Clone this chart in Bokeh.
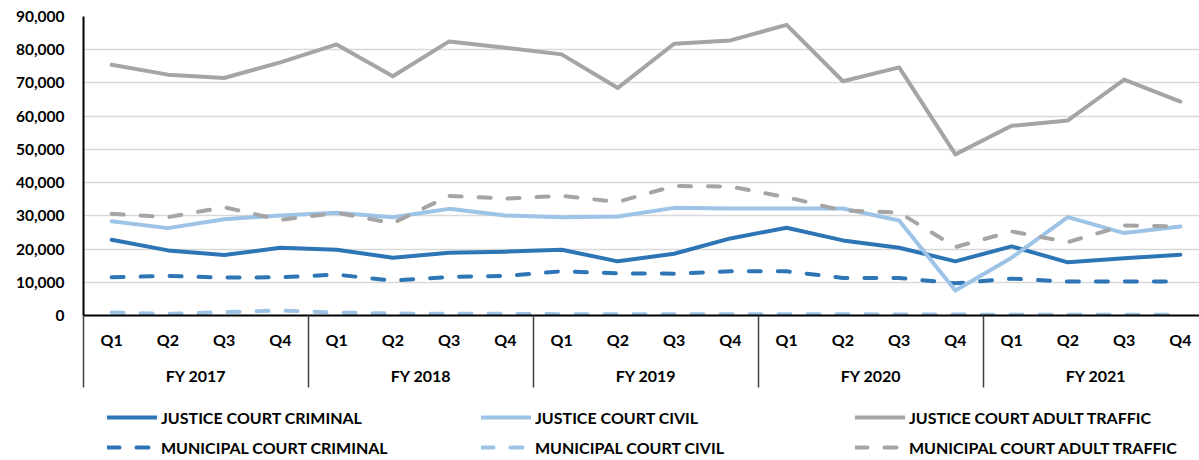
from bokeh.plotting import figure
from bokeh.layouts import column
from bokeh.models import Range1d, FixedTicker, LinearAxis, NumeralTickFormatter, Legend, LegendItem
from bokeh.embed import file_html
from bokeh.resources import INLINE

# ---- data ----
quarters = ["Q1", "Q2", "Q3", "Q4"] * 5
years = ["FY 2017", "FY 2018", "FY 2019", "FY 2020", "FY 2021"]
justice_criminal = [22800, 19600, 18200, 20400, 19800, 17400, 18900, 19200, 19800, 16300,
                    18600, 23200, 26400, 22600, 20400, 16300, 20800, 16000, 17200, 18300]
justice_civil = [28400, 26300, 29000, 30100, 30900, 29600, 32100, 30100, 29600, 29800,
                 32400, 32200, 32200, 32200, 28600, 7500, 17400, 29600, 24800, 26800]
justice_traffic = [75500, 72500, 71500, 76200, 81600, 72000, 82500, 80600, 78600, 68500,
                   81800, 82800, 87500, 70500, 74700, 48500, 57100, 58700, 71000, 64400]
municipal_criminal = [11500, 11900, 11400, 11500, 12300, 10500, 11600, 11900, 13300, 12700,
                      12600, 13300, 13300, 11300, 11300, 9700, 11100, 10200, 10200, 10200]
municipal_civil = [900, 500, 1000, 1500, 900, 600, 500, 500, 400, 400,
                   400, 400, 400, 400, 300, 300, 200, 200, 200, 200]
municipal_traffic = [30600, 29600, 32600, 28800, 30900, 27800, 36000, 35200, 36000, 34200,
                     39000, 38800, 35600, 31600, 31000, 20600, 25300, 22100, 27100, 26800]
y_ticks = [0, 10000, 20000, 30000, 40000, 50000, 60000, 70000, 80000, 90000]

x = list(range(len(quarters)))
year_centers = [1.5, 5.5, 9.5, 13.5, 17.5]
year_bounds = [-0.5, 3.5, 7.5, 11.5, 15.5]

DARK = "#2E75B6"
LIGHT = "#9DC3E6"
GRAY = "#A5A5A5"
FONT = "Lato"

p = figure(width=1199, height=395, output_backend="svg", toolbar_location=None,
           x_range=Range1d(-0.5, 19.34), y_range=Range1d(0, 90000),
           x_axis_type=None, min_border_left=83, min_border_right=0,
           min_border_top=16, min_border_bottom=80)
p.outline_line_color = None
p.background_fill_color = "white"

# y axis
yax = p.yaxis[0]
yax.ticker = FixedTicker(ticks=y_ticks)
yax.formatter = NumeralTickFormatter(format="0,0")
yax.major_tick_out = 0
yax.major_tick_in = 0
yax.minor_tick_out = 0
yax.minor_tick_in = 0
yax.axis_line_color = "black"
yax.axis_line_width = 2
yax.major_label_standoff = 19
yax.major_label_text_font = FONT
yax.major_label_text_font_style = "bold"
yax.major_label_text_font_size = "15.5px"
yax.major_label_text_color = "black"
p.ygrid.ticker = FixedTicker(ticks=y_ticks)
p.ygrid.grid_line_color = "#D9D9D9"
p.ygrid.grid_line_width = 1.5

# quarter axis; group separators drawn as long minor ticks
qax = LinearAxis(ticker=FixedTicker(ticks=x, minor_ticks=year_bounds),
                 major_label_overrides={i: quarters[i] for i in x},
                 major_tick_out=0, major_tick_in=0,
                 minor_tick_out=72, minor_tick_in=0,
                 minor_tick_line_color="#404040", minor_tick_line_width=1.5,
                 axis_line_color="black", axis_line_width=2,
                 major_label_standoff=-58,
                 major_label_text_font=FONT, major_label_text_font_style="bold",
                 major_label_text_font_size="16px", major_label_text_color="black")
p.add_layout(qax, "below")

yrax = LinearAxis(ticker=FixedTicker(ticks=year_centers),
                  major_label_overrides={c: y for c, y in zip(year_centers, years)},
                  major_tick_out=0, major_tick_in=0, minor_tick_out=0, minor_tick_in=0,
                  axis_line_color=None, major_tick_line_color=None, minor_tick_line_color=None,
                  major_label_standoff=14,
                  major_label_text_font=FONT, major_label_text_font_style="bold",
                  major_label_text_font_size="16px", major_label_text_color="black")
p.add_layout(yrax, "below")

series = [
    ("JUSTICE COURT CRIMINAL", justice_criminal, DARK, "solid"),
    ("JUSTICE COURT CIVIL", justice_civil, LIGHT, "solid"),
    ("JUSTICE COURT ADULT TRAFFIC", justice_traffic, GRAY, "solid"),
    ("MUNICIPAL COURT CRIMINAL", municipal_criminal, DARK, "12 17"),
    ("MUNICIPAL COURT CIVIL", municipal_civil, LIGHT, "12 17"),
    ("MUNICIPAL COURT ADULT TRAFFIC", municipal_traffic, GRAY, "12 17"),
]
draw_order = [4, 3, 0, 1, 5, 2]
for k in draw_order:
    name, vals, col, dash = series[k]
    p.line(x, vals, line_color=col, line_width=4, line_dash=dash,
           line_cap="round", line_join="round")

# legend strip (separate figure, legend only; its key lines lie outside its view)
lg = figure(width=1199, height=65, output_backend="svg", toolbar_location=None,
            x_range=Range1d(0, 1), y_range=Range1d(0, 1),
            x_axis_type=None, y_axis_type=None,
            min_border_left=0, min_border_right=0, min_border_top=0, min_border_bottom=0)
lg.outline_line_color = None
lg.xgrid.visible = False
lg.ygrid.visible = False
items = []
for name, vals, col, dash in series:
    r = lg.line([5, 6], [5, 5], line_color=col, line_width=4, line_dash=dash,
                line_cap="round", line_join="round")
    items.append(LegendItem(label=name, renderers=[r]))
legend = Legend(items=items, location=(24, 3), orientation="horizontal", ncols=3,
                glyph_width=50, glyph_height=20, label_standoff=4, label_width=310,
                label_height=20, spacing=10, padding=0, margin=0,
                border_line_color=None, background_fill_alpha=0,
                label_text_font=FONT, label_text_font_style="bold",
                label_text_font_size="16px", label_text_color="black")
lg.add_layout(legend, "center")

layout = column(p, lg, spacing=0)
open("out.html", "w").write(file_html(layout, INLINE))
